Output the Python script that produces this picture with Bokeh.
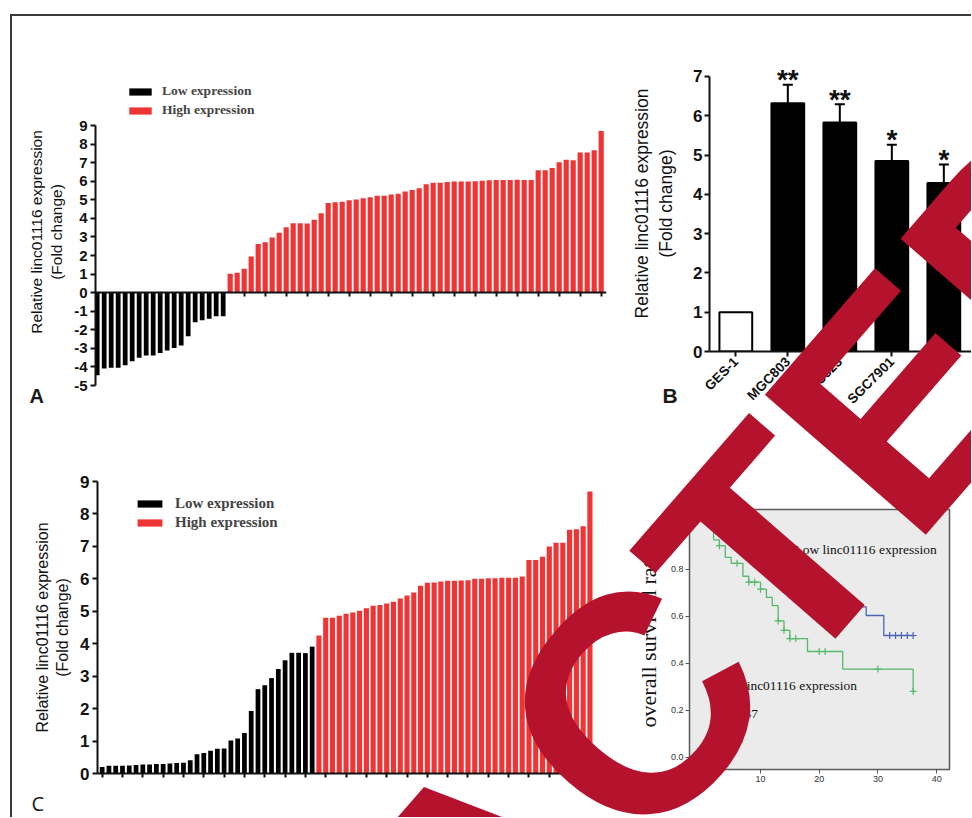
import math
from bokeh.plotting import figure
from bokeh.models import (Range1d, FixedTicker, Legend, LegendItem, Label, Whisker,
                          TeeHead, ColumnDataSource, NumeralTickFormatter)
from bokeh.layouts import row, column
from bokeh.embed import file_html
from bokeh.resources import INLINE
from bokeh.core.properties import value

# ---------------- data ----------------
# Panel A: relative expression (tumour vs normal), sorted
a_low = [-4.45, -4.09, -4.04, -4.04, -3.91, -3.70, -3.50, -3.39, -3.39, -3.25,
         -3.11, -2.98, -2.84, -2.35, -1.60, -1.49, -1.40, -1.27, -1.27]
a_high = [1.02, 1.07, 1.28, 1.95, 2.62, 2.72, 2.97, 3.22, 3.52, 3.74, 3.74, 3.72,
          3.93, 4.28, 4.83, 4.87, 4.90, 4.97, 5.01, 5.08, 5.13, 5.22, 5.22, 5.28,
          5.33, 5.44, 5.53, 5.62, 5.83, 5.92, 5.92, 5.96, 5.98, 5.98, 5.98, 6.00,
          6.03, 6.05, 6.07, 6.07, 6.07, 6.08, 6.07, 6.07, 6.59, 6.59, 6.71, 7.02,
          7.15, 7.13, 7.54, 7.54, 7.67, 8.71]
a_yticks = list(range(-5, 10))

# Panel B: cell lines
b_cells = ["GES-1", "MGC803", "BGC823", "SGC7901", "AGS"]
b_mean = [1.00, 6.32, 5.83, 4.85, 4.29]
b_sem = [0.00, 0.47, 0.46, 0.41, 0.47]
b_sig = ["", "**", "**", "*", "*"]
b_yticks = list(range(0, 8))

# Panel C: fold change, low / high groups
c_low = [0.20, 0.24, 0.24, 0.24, 0.25, 0.26, 0.28, 0.28, 0.29, 0.29, 0.31, 0.32,
         0.33, 0.41, 0.59, 0.63, 0.70, 0.76, 0.77, 1.02, 1.08, 1.25, 1.93, 2.60,
         2.72, 2.94, 3.22, 3.49, 3.72, 3.72, 3.71, 3.91]
c_high = [4.25, 4.80, 4.80, 4.86, 4.92, 4.96, 5.02, 5.09, 5.17, 5.19, 5.24, 5.29,
          5.39, 5.49, 5.58, 5.79, 5.88, 5.89, 5.92, 5.94, 5.94, 5.95, 5.96, 6.00,
          6.00, 6.02, 6.02, 6.03, 6.03, 6.03, 6.07, 6.58, 6.58, 6.68, 7.00, 7.11,
          7.11, 7.51, 7.53, 7.62, 8.69]
c_yticks = list(range(0, 10))

# Panel D: Kaplan-Meier
km_high_t = [0, 2, 3, 4, 5, 7, 8, 10, 11, 12, 13, 14, 15, 18, 24, 36]
km_high_s = [1.0, 0.925, 0.90, 0.85, 0.825, 0.77, 0.745, 0.715, 0.68, 0.645,
             0.58, 0.54, 0.505, 0.45, 0.375, 0.28]
km_high_cens = [3, 6, 8, 9, 10, 13, 14, 15, 16, 20, 21, 30, 36]
km_low_t = [0, 4, 7, 9, 12, 14, 17, 20, 23, 26, 28, 31, 36]
km_low_s = [1.0, 0.96, 0.92, 0.88, 0.84, 0.80, 0.76, 0.72, 0.68, 0.64, 0.603,
            0.518, 0.518]
km_low_cens = [32, 33, 34, 35, 36]
km_yticks = [0.0, 0.2, 0.4, 0.6, 0.8, 1.0]
km_xticks = [0, 10, 20, 30, 40]
km_low_label = "Low linc01116 expression"
km_high_label = "High linc01116 expression"
km_p_label = "P=0.037"
panel_letters = ["A", "B", "C"]

# ---------------- style / layout ----------------
RED = "#EE3434"
BLACK = "#000000"
AXC = "#111111"
WM = "#B5122D"
GREEN = "#55B96A"
BLUE = "#4A63B4"
FRAME = "#3a3a3a"
SANS = "Liberation Sans"
SERIF = "Liberation Serif"

X0, Y0 = 12, 16            # page position of layout content (after margin + border)
W1, W2 = 608, 351
H1, H2 = 414, 387

# figure page origin, size, borders (l, r, t, b), x range, y range
GEO = {
    "A": dict(ox=X0, oy=Y0, w=W1, h=H1, b=(83, 14, 62, 45), xr=(-0.24, 72.76), yr=(-5, 11.531)),
    "B": dict(ox=X0 + W1, oy=Y0, w=W2, h=H1, b=(89, 0, 39, 79), xr=(-0.506, 4.532), yr=(0, 7.534)),
    "C": dict(ox=X0, oy=Y0 + H1, w=W1, h=H2, b=(85, 24, 51, 44), xr=(-0.69, 72.97), yr=(0, 9)),
    "D": dict(ox=X0 + W1, oy=Y0 + H1, w=W2, h=H2, b=(69, 22, 79, 48), xr=(-2.10, 42.19), yr=(-0.052, 1.054)),
}
OV_W, OV_H = 959, 801      # overlay canvas (page x 12..971, y 16..817)

WM_TEXT = "RETRACTED"
WM_ORIGIN = (-141, 1597)   # page px of text anchor
WM_SIZE = "310px"
WM_ANGLE = 49.0            # degrees
LETTER_POS = [(29, 395, "20px", "bold", SANS), (662, 395, "21px", "bold", SANS),
              (31, 803, "20px", "normal", "Open Sans")]


def to_data(key, px, py):
    g = GEO[key]
    l, r, t, b = g["b"]
    fw = g["w"] - l - r
    fh = g["h"] - t - b
    left = g["ox"] + l
    top = g["oy"] + t
    x0, x1 = g["xr"]
    y0, y1 = g["yr"]
    dx = x0 + (px - left) / fw * (x1 - x0)
    dy = y1 - (py - top) / fh * (y1 - y0)
    return dx, dy


def make_fig(key):
    g = GEO[key]
    l, r, t, b = g["b"]
    p = figure(width=g["w"], height=g["h"], x_range=Range1d(*g["xr"]),
               y_range=Range1d(*g["yr"]), output_backend="svg", toolbar_location=None,
               min_border_left=l, min_border_right=r, min_border_top=t,
               min_border_bottom=b, frame_align=False)
    p.outline_line_color = None
    p.grid.visible = False
    p.background_fill_color = "white"
    p.border_fill_color = "white"
    return p


def style_axis(ax, size, width=2):
    ax.axis_line_color = AXC
    ax.axis_line_width = width
    ax.major_tick_line_color = AXC
    ax.major_tick_line_width = width
    ax.minor_tick_line_color = None
    ax.major_tick_in = 0
    ax.major_tick_out = 5
    ax.major_label_text_font = SANS
    ax.major_label_text_font_style = "bold"
    ax.major_label_text_font_size = size
    ax.major_label_text_color = AXC


def add_label(p, key, px, py, text, size, font=SANS, style="normal", color=AXC,
              align="left", baseline="alphabetic", angle=0.0, level="annotation"):
    dx, dy = to_data(key, px, py)
    p.add_layout(Label(x=dx, y=dy, text=text, text_font=font, text_font_size=size,
                       text_font_style=style, text_color=color, text_align=align,
                       text_baseline=baseline, angle=angle, level=level))


YTITLE = "Relative linc01116 expression\n(Fold change)"

# ---------------- Panel A ----------------
pA = make_fig("A")
n_low = len(a_low)
srcA_low = ColumnDataSource(dict(x=list(range(n_low)), top=a_low))
srcA_high = ColumnDataSource(dict(x=list(range(n_low, n_low + len(a_high))), top=a_high))
rA_low = pA.vbar(x="x", top="top", bottom=0, width=0.68, source=srcA_low,
                 fill_color=BLACK, line_color=None)
rA_high = pA.vbar(x="x", top="top", bottom=0, width=0.74, source=srcA_high,
                  fill_color=RED, line_color=None)
style_axis(pA.yaxis[0], "15px")
pA.yaxis.bounds = (min(a_yticks), max(a_yticks))
pA.yaxis.ticker = FixedTicker(ticks=a_yticks)
pA.yaxis.major_label_overrides = {v: str(v) for v in a_yticks}
pA.yaxis.major_label_standoff = 3
pA.yaxis.axis_label = YTITLE
pA.yaxis.axis_label_text_font = SANS
pA.yaxis.axis_label_text_font_style = "normal"
pA.yaxis.axis_label_text_font_size = "15.5px"
pA.yaxis.axis_label_text_color = AXC
pA.yaxis.axis_label_standoff = 6
style_axis(pA.xaxis[0], "11px")
pA.xaxis.fixed_location = 0
a_xticks = list(range(0, n_low + len(a_high), 3))
pA.xaxis.ticker = FixedTicker(ticks=a_xticks)
pA.xaxis.major_label_overrides = {t: "" for t in a_xticks}
pA.xaxis.major_tick_out = 4
legA = Legend(items=[LegendItem(label="Low expression", renderers=[rA_low]),
                     LegendItem(label="High expression", renderers=[rA_high])],
              location=(31, 267), orientation="vertical", glyph_width=28, glyph_height=9,
              label_standoff=8, label_text_font=SERIF, label_text_font_style="bold",
              label_text_font_size="13.5px", label_height=16, spacing=3, padding=0,
              margin=0, border_line_color=None, background_fill_alpha=0)
pA.add_layout(legA)

# ---------------- Panel B ----------------
pB = make_fig("B")
bx = list(range(len(b_cells)))
b_fill = ["white"] + [BLACK] * (len(b_cells) - 1)
pB.vbar(x=bx, top=b_mean, bottom=0, width=0.63, fill_color=b_fill,
        line_color=BLACK, line_width=2)
wi = [i for i in bx if b_sem[i] > 0]
srcW = ColumnDataSource(dict(base=wi, lower=[b_mean[i] for i in wi],
                             upper=[b_mean[i] + b_sem[i] for i in wi]))
pB.add_layout(Whisker(source=srcW, base="base", lower="lower", upper="upper",
                      line_color=BLACK, line_width=2, lower_head=None,
                      upper_head=TeeHead(size=10, line_width=2, line_color=BLACK)))
pB.text(x=bx, y=[m + s for m, s in zip(b_mean, b_sem)], text=b_sig,
        text_align="center", text_baseline="alphabetic", y_offset=-5,
        text_font=value(SANS), text_font_style="bold", text_font_size="28px",
        text_color=AXC)
style_axis(pB.yaxis[0], "17px")
pB.yaxis.bounds = (min(b_yticks), max(b_yticks))
pB.yaxis.ticker = FixedTicker(ticks=b_yticks)
pB.yaxis.major_label_standoff = 2
pB.yaxis.axis_label = YTITLE
pB.yaxis.axis_label_text_font = SANS
pB.yaxis.axis_label_text_font_style = "normal"
pB.yaxis.axis_label_text_font_size = "17.5px"
pB.yaxis.axis_label_text_color = AXC
pB.yaxis.axis_label_standoff = 14
style_axis(pB.xaxis[0], "13.5px")
pB.xaxis.ticker = FixedTicker(ticks=bx)
pB.xaxis.major_label_overrides = {i: c for i, c in zip(bx, b_cells)}
pB.xaxis.major_label_orientation = math.pi / 4
pB.xaxis.major_label_standoff = 3

# ---------------- Panel C ----------------
pC = make_fig("C")
m_low = len(c_low)
srcC_low = ColumnDataSource(dict(x=list(range(m_low)), top=c_low))
srcC_high = ColumnDataSource(dict(x=list(range(m_low, m_low + len(c_high))), top=c_high))
rC_low = pC.vbar(x="x", top="top", bottom=0, width=0.70, source=srcC_low,
                 fill_color=BLACK, line_color=None)
rC_high = pC.vbar(x="x", top="top", bottom=0, width=0.76, source=srcC_high,
                  fill_color=RED, line_color=None)
style_axis(pC.yaxis[0], "17px")
pC.yaxis.ticker = FixedTicker(ticks=c_yticks)
pC.yaxis.major_label_standoff = 3
pC.yaxis.axis_label = YTITLE
pC.yaxis.axis_label_text_font = SANS
pC.yaxis.axis_label_text_font_style = "normal"
pC.yaxis.axis_label_text_font_size = "16px"
pC.yaxis.axis_label_text_color = AXC
pC.yaxis.axis_label_standoff = 6
style_axis(pC.xaxis[0], "11px")
c_xticks = list(range(0, m_low + len(c_high), 3))
pC.xaxis.ticker = FixedTicker(ticks=c_xticks)
pC.xaxis.major_label_overrides = {t: "" for t in c_xticks}
pC.xaxis.major_tick_out = 4
legC = Legend(items=[LegendItem(label="Low expression", renderers=[rC_low]),
                     LegendItem(label="High expression", renderers=[rC_high])],
              location=(37, 242), orientation="vertical", glyph_width=31, glyph_height=9,
              label_standoff=10, label_text_font=SERIF, label_text_font_style="bold",
              label_text_font_size="15px", label_height=17, spacing=2, padding=0,
              margin=0, border_line_color=None, background_fill_alpha=0)
pC.add_layout(legC)

# ---------------- Panel D ----------------
pD = make_fig("D")
pD.background_fill_color = "#EBEBEB"
pD.outline_line_color = "#5a5a5a"
pD.outline_line_width = 1.5


def surv_at(ts, ss, t):
    v = ss[0]
    for ti, si in zip(ts, ss):
        if ti <= t:
            v = si
    return v


pD.step(km_low_t, km_low_s, mode="after", line_color=BLUE, line_width=1.3)
pD.step(km_high_t, km_high_s, mode="after", line_color=GREEN, line_width=1.3)
pD.scatter(km_low_cens, [surv_at(km_low_t, km_low_s, t) for t in km_low_cens],
           marker="cross", size=7, line_color=BLUE, line_width=1.2)
pD.scatter(km_high_cens, [surv_at(km_high_t, km_high_s, t) for t in km_high_cens],
           marker="cross", size=7, line_color=GREEN, line_width=1.2)
for ax in (pD.xaxis[0], pD.yaxis[0]):
    ax.axis_line_color = None
    ax.major_tick_line_color = "#555555"
    ax.major_tick_line_width = 1
    ax.minor_tick_line_color = None
    ax.major_tick_in = 0
    ax.major_tick_out = 4
    ax.major_label_text_font = SANS
    ax.major_label_text_font_size = "9px"
    ax.major_label_text_color = "#333333"
    ax.major_label_standoff = 2
pD.yaxis.ticker = FixedTicker(ticks=km_yticks)
pD.yaxis.formatter = NumeralTickFormatter(format="0.0")
pD.xaxis.ticker = FixedTicker(ticks=km_xticks)
pD.yaxis.axis_label = "overall survival rate"
pD.yaxis.axis_label_text_font = SERIF
pD.yaxis.axis_label_text_font_style = "normal"
pD.yaxis.axis_label_text_font_size = "22px"
pD.yaxis.axis_label_text_color = AXC
pD.yaxis.axis_label_standoff = 7
add_label(pD, "D", 794, 549, km_low_label, "13.5px", font=SERIF, baseline="middle")
add_label(pD, "D", 712, 685, km_high_label, "13.5px", font=SERIF, baseline="middle")
add_label(pD, "D", 712, 713, km_p_label, "13.5px", font=SERIF, baseline="middle")

# ---------------- overlay: panel letters + watermark ----------------
pW = figure(width=OV_W, height=OV_H, x_range=Range1d(0, OV_W), y_range=Range1d(0, OV_H),
            output_backend="svg", toolbar_location=None, min_border=0,
            x_axis_location=None, y_axis_location=None,
            styles={"position": "absolute", "top": "0px", "left": "0px", "z-index": "5"})
pW.outline_line_color = None
pW.grid.visible = False
pW.background_fill_color = None
pW.border_fill_color = None


def ov(px, py):
    return px - X0, (Y0 + OV_H) - py


for letter, (px, py, size, style, font) in zip(panel_letters, LETTER_POS):
    lx, ly = ov(px, py)
    pW.add_layout(Label(x=lx, y=ly, text=letter, text_font=font, text_font_size=size,
                        text_font_style=style, text_color="#1a1a1a",
                        text_align="left", text_baseline="alphabetic"))
wx, wy = ov(*WM_ORIGIN)
pW.add_layout(Label(x=wx, y=wy, text=WM_TEXT, text_font=SANS, text_font_size=WM_SIZE,
                    text_font_style="bold", text_color=WM, text_align="left",
                    text_baseline="alphabetic", angle=math.radians(WM_ANGLE),
                    level="overlay"))

layout = column(row(pA, pB), row(pC, pD), pW, margin=(14, 0, 0, 10),
                styles={"border-top": "2px solid " + FRAME,
                        "border-left": "2px solid " + FRAME,
                        "position": "relative"})

open("out.html", "w").write(file_html(layout, INLINE))
